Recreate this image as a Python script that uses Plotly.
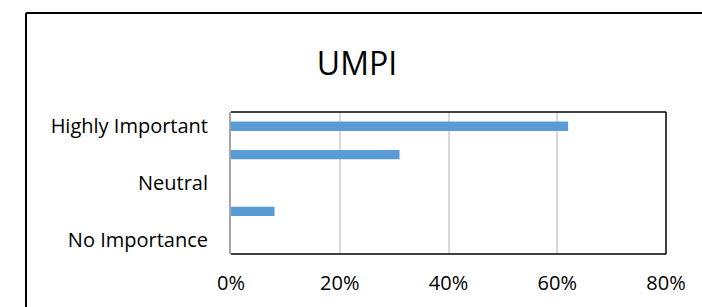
import plotly.graph_objects as go

categories = ["Highly Important", "Important", "Neutral", "Less Important", "No Importance"]
tick_labels = ["Highly Important", "", "Neutral", "", "No Importance"]
values = [0.62, 0.31, 0.0, 0.08, 0.0]
x_ticks = [0, 0.2, 0.4, 0.6, 0.8]
x_tick_labels = ["0%", "20%", "40%", "60%", "80%"]
title_text = "UMPI"

FONT = "Open Sans"

fig = go.Figure()
fig.add_trace(go.Bar(
    y=categories, x=values, orientation="h",
    width=0.33,
    marker=dict(color="#5B9BD5", line=dict(width=0)),
    hoverinfo="skip",
))

W, H = 702, 307
L, R, T, B = 231, 36, 112, 53
pw = W - L - R
ph = H - T - B

def px_x(p):
    return (p - L) / pw

def px_y(p):
    return (H - B - p) / ph

frame = dict(color="#000000", width=2)

fig.update_layout(
    width=W, height=H,
    margin=dict(l=L, r=R, t=T, b=B),
    paper_bgcolor="white", plot_bgcolor="white",
    showlegend=False,
    title=dict(text=title_text, x=357 / W, xanchor="center", y=1 - 64 / H, yanchor="middle",
               font=dict(family=FONT, size=32, color="#000000")),
    xaxis=dict(range=[0, 0.8], tickvals=x_ticks, ticktext=x_tick_labels,
               showgrid=True, gridcolor="#D9D9D9", gridwidth=1.5,
               zeroline=False, showline=False, ticks="",
               ticklabelstandoff=15,
               tickfont=dict(family=FONT, size=20, color="#000000")),
    yaxis=dict(categoryorder="array", categoryarray=categories, autorange="reversed",
               tickvals=categories, ticktext=tick_labels,
               showgrid=False, zeroline=False,
               showline=True, linecolor="#A6A6A6", linewidth=2,
               ticks="", ticklabelstandoff=17,
               tickfont=dict(family=FONT, size=20, color="#000000")),
    shapes=[
        dict(type="line", xref="paper", yref="paper", x0=0, x1=1, y0=1, y1=1,
             line=dict(color="#000000", width=1.5)),
        dict(type="line", xref="paper", yref="paper", x0=1, x1=1, y0=0, y1=1,
             line=dict(color="#000000", width=1.5)),
        dict(type="line", xref="paper", yref="paper", x0=0, x1=1, y0=0, y1=0,
             line=dict(color="#000000", width=1.5)),
        dict(type="line", xref="paper", yref="paper",
             x0=px_x(26), x1=px_x(W + 5), y0=px_y(13), y1=px_y(13), line=frame),
        dict(type="line", xref="paper", yref="paper",
             x0=px_x(26), x1=px_x(26), y0=px_y(13), y1=px_y(H + 5), line=frame),
    ],
)

fig.write_html(
    "out.html",
    config={"displayModeBar": False},
    post_script=(
        "document.documentElement.style.overflow='hidden';"
        "document.documentElement.style.margin='0';"
        "document.body.style.margin='0';"
        "document.body.style.overflow='hidden';"
    ),
)
